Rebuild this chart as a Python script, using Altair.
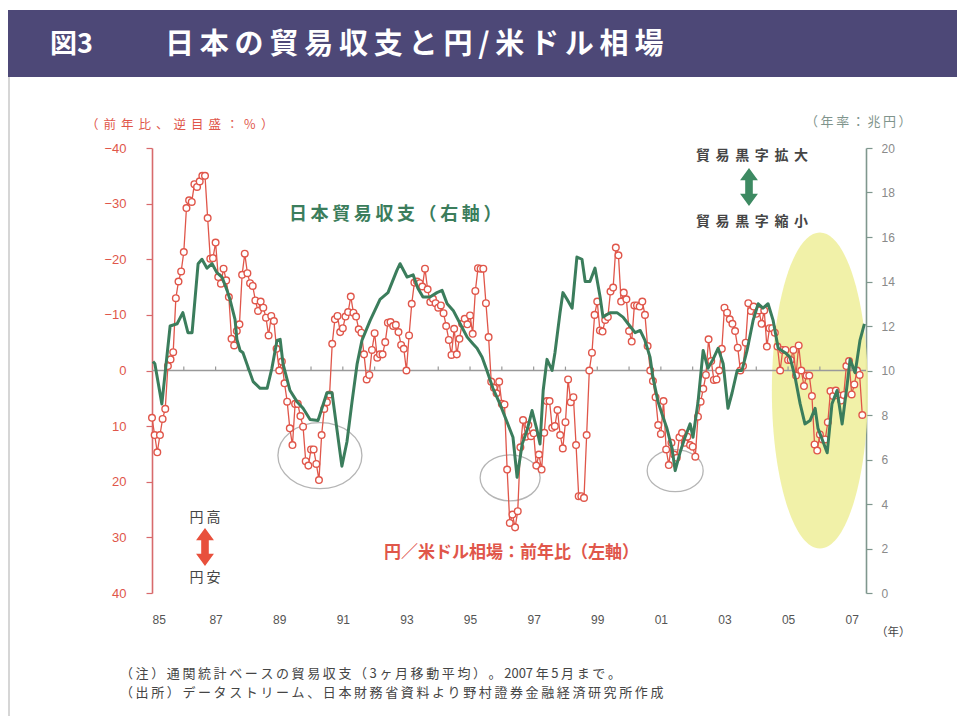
import altair as alt
import pandas as pd

# ---------------------------------------------------------------
# Yen / US dollar rate, year-on-year % change (monthly, Jan 1985 - May 2007)
# plotted on the left axis with an inverted scale (yen appreciation is up)
# ---------------------------------------------------------------
yen_1985_89 = [
    8.5, 11.6, 14.7, 11.6, 8.7, 6.9, -0.8, -2.0, -3.3, -13.0, -16.0, -17.8,
    -21.3, -29.2, -30.6, -30.3, -33.5, -33.0, -34.0, -35.0, -35.0, -27.4, -20.1, -20.2,
    -23.0, -16.8, -15.6, -18.3, -16.2, -13.2, -5.7, -4.5, -7.1, -8.3, -17.2, -21.0,
    -17.5, -15.7, -15.2, -12.6, -10.7, -12.4, -11.3, -9.5, -6.3, -9.8, -8.9, -3.9,
    0.0, -1.6, 2.3, 5.6, 10.4, 13.4, 6.0, 6.0, 8.2, 10.1, 16.3, 17.1,
]
yen_1990_94 = [
    14.2, 14.2, 16.8, 19.7, 11.6, 6.9, 5.7, 4.3, -4.8, -9.2, -9.8, -6.9,
    -7.6, -9.7, -10.5, -13.3, -10.4, -9.7, -7.4, -6.8, -2.9, 1.6, 0.8, -3.7,
    -6.7, -2.3, -2.9, -2.9, -5.1, -8.6, -8.7, -8.0, -8.2, -6.9, -4.6, -3.9,
    0.0, -6.3, -12.0, -15.8, -16.0, -15.7, -15.1, -18.3, -14.6, -12.3, -12.9, -12.1,
    -11.3, -11.7, -10.3, -8.0, -5.5, -2.8, -7.5, -2.9, -5.7, -8.4, -9.3, -8.3,
]
yen_1995_99 = [
    -9.9, -6.6, -14.3, -18.4, -18.3, -18.3, -12.1, -6.0, 2.0, 3.1, 4.1, 2.0,
    6.0, 6.1, 17.8, 27.4, 25.9, 28.2, 25.3, 13.8, 8.9, 11.9, 9.8, 11.8,
    11.3, 17.1, 15.1, 17.8, 11.2, 5.5, 5.5, 10.3, 10.0, 7.1, 11.6, 14.0,
    9.3, 1.6, 5.7, 4.8, 13.4, 22.6, 22.6, 22.9, 11.6, 0.0, -3.2, -10.0,
    -12.4, -7.2, -7.0, -9.1, -9.6, -14.2, -14.9, -22.1, -20.7, -12.4, -14.0, -12.8,
]
yen_2000_04 = [
    -7.1, -5.2, -11.7, -11.7, -11.5, -12.4, -10.0, -4.4, 0.0, 1.9, 4.8, 9.8,
    11.4, 5.5, 14.2, 17.0, 13.0, 15.1, 15.7, 12.0, 11.2, 13.0, 11.9, 13.4,
    13.7, 15.5, 8.3, 5.6, 3.3, 0.8, -5.6, -1.7, 1.7, 1.6, 0.0, -3.9,
    -11.3, -10.4, -9.2, -8.4, -7.1, -4.1, 0.0, -0.8, -5.0, -12.1, -10.7, -11.5,
    -10.2, -10.8, -8.4, -10.8, -4.3, -7.6, -7.6, -6.8, -4.3, 0.0, -3.7, -3.7,
]
yen_2005_07 = [
    -1.9, -1.9, -3.7, 0.9, -4.5, 0.0, 2.8, 0.9, 0.9, 4.6, 13.3, 14.4,
    11.5, 12.4, 12.4, 9.3, 3.7, 4.6, 3.6, 4.5, 5.4, 4.4, -0.8, -1.7,
    4.3, 2.5, 0.0, 0.8, 8.0,
]

# ---------------------------------------------------------------
# Japan trade balance, annualised, trillion yen (3-month moving average)
# right axis
# ---------------------------------------------------------------
tb_time_a = [
    1985.03, 1985.09, 1985.31, 1985.57, 1985.79, 1985.97, 1986.13, 1986.26, 1986.45,
    1986.57, 1986.73, 1986.89, 1987.04, 1987.20, 1987.36, 1987.45, 1987.61, 1987.67,
    1987.77, 1987.86, 1988.18, 1988.40, 1988.62, 1988.77, 1988.93, 1989.03, 1989.12,
    1989.34, 1989.56, 1989.75, 1989.97, 1990.22, 1990.50, 1990.66, 1990.82, 1990.97,
    1991.13, 1991.29, 1991.45, 1991.60, 1991.86, 1992.17, 1992.42, 1992.70, 1992.80,
    1993.02, 1993.21, 1993.36, 1993.52, 1993.74, 1993.96, 1994.12, 1994.28, 1994.47,
    1994.69, 1994.91, 1995.09, 1995.22, 1995.38, 1995.53, 1995.72, 1995.94,
]
tb_value_a = [
    10.4, 10.3, 8.5, 12.0, 12.1, 12.6, 11.7, 11.7, 14.8,
    15.0, 14.6, 14.8, 14.4, 14.2, 13.6, 13.2, 12.3, 11.4,
    10.9, 10.8, 9.5, 9.2, 9.2, 10.1, 11.35, 11.4, 10.3,
    9.1, 8.6, 8.3, 7.8, 7.75, 9.0, 9.0, 7.3, 5.7,
    6.8, 8.6, 10.3, 11.35, 12.25, 13.2, 13.5, 14.5, 14.8,
    14.2, 14.3, 13.7, 13.3, 13.3, 13.5, 13.6, 13.0, 12.7,
    12.1, 11.5, 11.2, 11.0, 10.6, 10.0, 9.2, 8.5,
]
tb_time_b = [
    1996.16, 1996.35, 1996.48, 1996.64, 1996.79, 1996.95, 1997.11, 1997.20, 1997.30,
    1997.42, 1997.58, 1997.67, 1997.83, 1997.92, 1998.05, 1998.21, 1998.36, 1998.52,
    1998.62, 1998.77, 1998.93, 1999.09, 1999.18, 1999.40, 1999.62, 1999.81, 1999.97,
    2000.19, 2000.35, 2000.50, 2000.66, 2000.75, 2000.91, 2001.07, 2001.19, 2001.35,
    2001.45, 2001.60, 2001.76, 2001.92, 2002.01, 2002.17, 2002.33, 2002.48, 2002.64,
    2002.80, 2002.96, 2003.11, 2003.24, 2003.40, 2003.55, 2003.71, 2003.90, 2004.06,
    2004.21, 2004.37, 2004.53, 2004.69, 2004.91, 2005.06, 2005.22, 2005.38, 2005.53,
    2005.69, 2005.85, 2005.94, 2006.10, 2006.23, 2006.38, 2006.54, 2006.70, 2006.86,
    2006.95, 2007.11, 2007.26, 2007.40,
]
tb_value_b = [
    7.7, 7.0, 5.2, 6.7, 7.3, 8.2, 7.3, 6.7, 9.1,
    10.5, 10.0, 10.8, 12.6, 13.5, 13.2, 12.8, 15.1, 15.0,
    14.0, 14.0, 14.6, 13.3, 12.4, 12.6, 12.6, 12.4, 12.1,
    11.7, 11.8, 11.35, 10.6, 9.7, 8.6, 7.9, 7.4, 6.5,
    5.5, 6.3, 7.0, 7.6, 7.0, 8.6, 10.9, 10.1, 10.5,
    11.0, 10.3, 8.3, 9.0, 10.0, 10.0, 10.9, 12.25, 13.0,
    12.8, 13.0, 12.25, 11.0, 10.8, 10.6, 9.7, 8.5, 7.6,
    7.75, 8.3, 7.4, 6.8, 6.3, 8.5, 9.1, 7.6, 9.4,
    10.5, 9.9, 11.35, 12.1,
]

x_ticks = list(range(1985, 2008, 2))
left_ticks = list(range(-40, 41, 10))
right_ticks = list(range(0, 21, 2))
year_marks = list(range(1986, 2008))

# ---------------------------------------------------------------
# layout / style
# ---------------------------------------------------------------
W, H = 714, 445
PAD_L, PAD_T, PAD_R, PAD_B = 152, 148, 91, 123
FONT_JP = "Noto Sans CJK JP"
FONT_NUM = "Liberation Sans"
RED = "#e0564a"
RED_AXIS = "#d86a6c"
GREEN = "#3b7d5c"
RIGHT_AXIS = "#7f978e"
TEXT = "#454545"
TITLE_BG = "#4d4877"
THIN = "\u2009"

yen_all = yen_1985_89 + yen_1990_94 + yen_1995_99 + yen_2000_04 + yen_2005_07
yen_df = pd.DataFrame({"t": [1985 + i / 12 for i in range(len(yen_all))], "v": yen_all})
tb_df = pd.DataFrame({"t": tb_time_a + tb_time_b, "g": tb_value_a + tb_value_b})
one = pd.DataFrame({"k": [0]})

x_scale = alt.Scale(domain=[1985, 2007.45], nice=False, zero=False)
x_axis = alt.Axis(values=x_ticks, labelExpr="substring(toString(datum.value), 2, 4)",
                  domain=False, ticks=False, grid=False, labelPadding=21,
                  labelFontSize=12, labelColor="#555555", labelFont=FONT_NUM, title=None)
X = alt.X("t:Q", scale=x_scale, axis=x_axis)

yl_scale = alt.Scale(domain=[-40, 40], reverse=True, nice=False, zero=False)
yl_axis = alt.Axis(values=left_ticks, orient="left", domainColor=RED_AXIS, domainWidth=1.6,
                   tickColor=RED_AXIS, tickSize=6, tickWidth=1.2, labelColor=RED,
                   labelFontSize=13, labelPadding=20, labelFont=FONT_NUM, grid=False, title=None)
YL = alt.Y("v:Q", scale=yl_scale, axis=yl_axis)

yr_scale = alt.Scale(domain=[0, 20], nice=False, zero=False)
yr_axis = alt.Axis(values=right_ticks, orient="right", domainColor=RIGHT_AXIS, domainWidth=1.6,
                   tickColor=RIGHT_AXIS, tickSize=6, tickWidth=1.2, labelColor="#8a8a8a",
                   labelFontSize=12, labelPadding=9, labelFont=FONT_NUM, grid=False, title=None)
YR = alt.Y("g:Q", scale=yr_scale, axis=yr_axis)


def ellipse_path(rx, ry):
    k = 0.5523
    return (f"M{rx},0 C{rx},{ry*k} {rx*k},{ry} 0,{ry} "
            f"C{-rx*k},{ry} {-rx},{ry*k} {-rx},0 "
            f"C{-rx},{-ry*k} {-rx*k},{-ry} 0,{-ry} "
            f"C{rx*k},{-ry} {rx},{-ry*k} {rx},0 Z")


ARROW = ("M0,-1 L0.47,-0.36 L0.2,-0.36 L0.2,0.36 L0.47,0.36 L0,1 "
         "L-0.47,0.36 L-0.2,0.36 L-0.2,-0.36 L-0.47,-0.36 Z")


def spaced(s, n=1):
    # widen the tracking of Japanese text with thin spaces (not between ASCII runs)
    out = s[0]
    for a, b in zip(s, s[1:]):
        if not (a.isascii() and b.isascii()):
            out += THIN * n
        out += b
    return out


def px(x):
    return alt.value(x - PAD_L)


def py(y):
    return alt.value(y - PAD_T)


def label(text, x, y, size, color, align="left", weight="normal", font=FONT_JP):
    return alt.Chart(one).mark_text(
        text=text, align=align, baseline="middle", fontSize=size,
        color=color, fontWeight=weight, font=font
    ).encode(x=px(x), y=py(y))


# ---------------------------------------------------------------
# left-scale group
# ---------------------------------------------------------------
# highlighted recent period
yellow = alt.Chart(pd.DataFrame({"t": [2006.0], "v": [3.6]})).mark_point(
    shape=ellipse_path(0.304, 1.0), size=316 ** 2, filled=True,
    fill="#eff09e", opacity=0.9, strokeWidth=0
).encode(x=X, y=YL)

rings = []
for (t, v, w, h) in [(1990.28, 15.3, 84, 66), (1996.26, 19.3, 60, 46), (2001.45, 18.0, 56, 42)]:
    rings.append(
        alt.Chart(pd.DataFrame({"t": [t], "v": [v]})).mark_point(
            shape=ellipse_path(1.0, h / w), size=w ** 2, filled=False,
            stroke="#b5b5b5", strokeWidth=1.3, opacity=1
        ).encode(x=X, y=YL)
    )

zero_line = alt.Chart(pd.DataFrame({"t": [1985.0], "t2": [2007.45], "v": [0.0]})).mark_rule(
    color="#9a9a9a", strokeWidth=1.6
).encode(x=X, x2="t2:Q", y=YL)

year_tick_df = pd.DataFrame({"t": year_marks, "v": [0.0] * len(year_marks), "v2": [-0.7] * len(year_marks)})
year_ticks = alt.Chart(year_tick_df).mark_rule(color="#9a9a9a", strokeWidth=1.2).encode(
    x=X, y=YL, y2="v2:Q")

red_line = alt.Chart(yen_df).mark_line(color=RED, strokeWidth=1.3).encode(x=X, y=YL)
red_pts = alt.Chart(yen_df).mark_point(
    shape="circle", size=44, filled=True, fill="white", stroke=RED, strokeWidth=1.4, opacity=1
).encode(x=X, y=YL)

left_group = alt.layer(yellow, *rings, zero_line, year_ticks, red_line, red_pts)

# ---------------------------------------------------------------
# right-scale group
# ---------------------------------------------------------------
green_line = alt.Chart(tb_df).mark_line(
    color=GREEN, strokeWidth=3.0, strokeJoin="round"
).encode(x=X, y=YR)
right_group = alt.layer(green_line)

# ---------------------------------------------------------------
# frame, title and annotations
# ---------------------------------------------------------------
title_bar = alt.Chart(one).mark_rect(color=TITLE_BG).encode(
    x=px(8), x2=px(957), y=py(10), y2=py(77))
frame_line = alt.Chart(one).mark_rule(color="#c8c8c8", strokeWidth=1.5).encode(
    x=px(9), y=py(77), y2=py(716))

arrow_green = alt.Chart(one).mark_point(
    shape=ARROW, size=38 ** 2, filled=True, color="#3d8a62", opacity=1
).encode(x=px(749), y=py(187))
arrow_red = alt.Chart(one).mark_point(
    shape=ARROW, size=38 ** 2, filled=True, color="#e8503c", opacity=1
).encode(x=px(205), y=py(547))

annotations = [
    title_bar,
    frame_line,
    label("図3", 50, 45, 27, "white", weight="bold"),
    label(spaced("日本の貿易収支と円/米ドル相場"), 165, 45, 29, "white", weight="bold"),
    label(spaced("（前年比、逆目盛：％）", 2), 86, 125, 12.5, RED),
    label(spaced("（年率：兆円）"), 805, 122, 13, "#7f948c"),
    label(spaced("日本貿易収支（右軸）"), 289, 215, 18, GREEN, weight="bold"),
    label("円／米ドル相場：前年比（左軸）", 384, 553, 17, RED, weight="bold"),
    label(spaced("貿易黒字拡大", 2), 752, 156, 14, TEXT, align="center", weight="bold"),
    label(spaced("貿易黒字縮小", 2), 752, 222, 14, TEXT, align="center", weight="bold"),
    label(spaced("円高"), 205, 518, 14, TEXT, align="center"),
    label(spaced("円安"), 205, 578, 14, TEXT, align="center"),
    label("（年）", 876, 633, 11.5, TEXT),
    label(spaced("（注）通関統計ベースの貿易収支（3ヶ月移動平均）。2007年5月まで。"), 120, 674, 13, TEXT),
    label(spaced("（出所）データストリーム、日本財務省資料より野村證券金融経済研究所作成"), 120, 693, 13, TEXT),
    arrow_green,
    arrow_red,
]

chart = alt.layer(left_group, right_group, *annotations).resolve_scale(
    y="independent"
).properties(
    width=W,
    height=H,
    autosize=alt.AutoSizeParams(type="none"),
    padding={"left": PAD_L, "top": PAD_T, "right": PAD_R, "bottom": PAD_B},
    background="white",
).configure_view(stroke=None)

chart.save("out.html", embed_options={"renderer": "svg", "actions": False})
